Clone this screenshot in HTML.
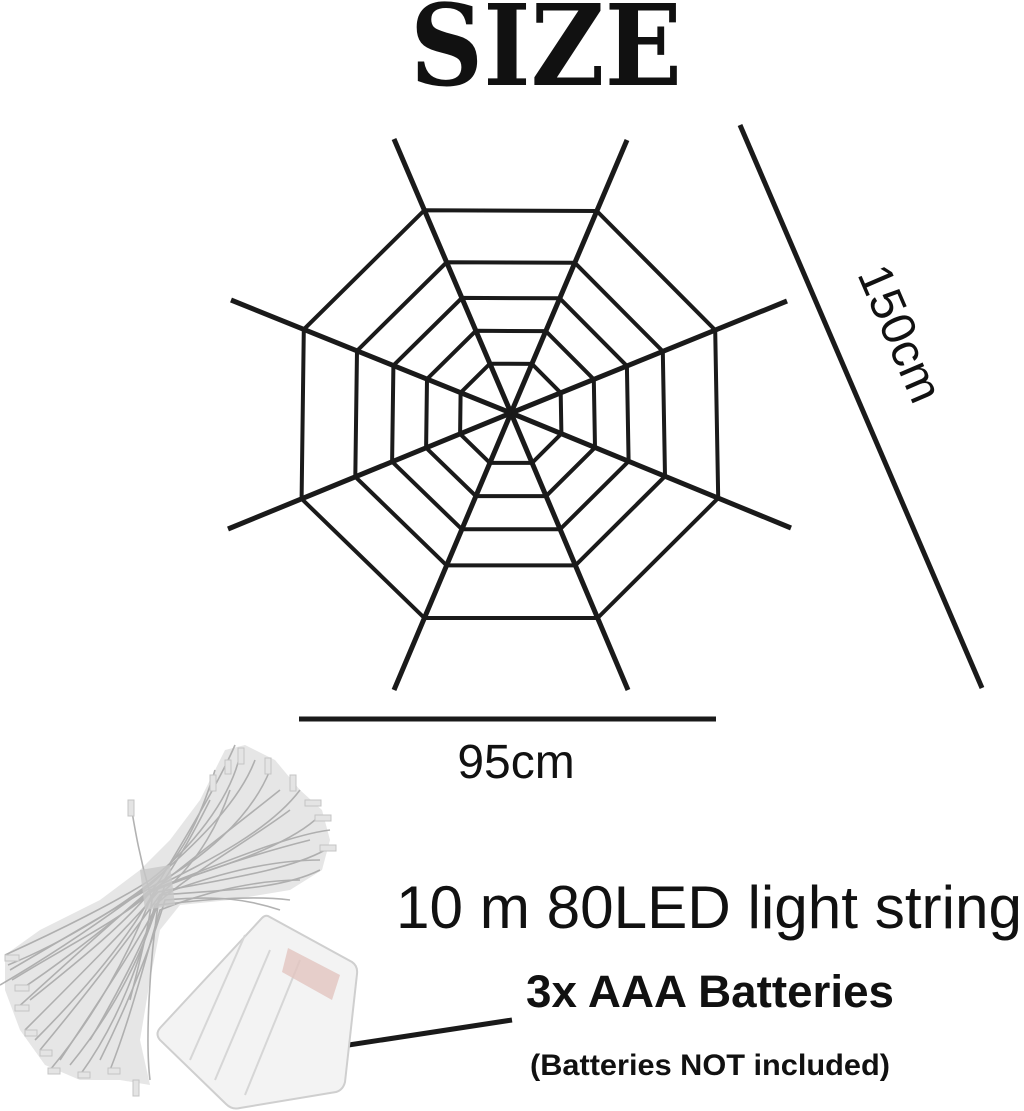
<!DOCTYPE html>
<html><head><meta charset="utf-8"><style>
html,body{margin:0;padding:0;background:#fff;}
body{width:1024px;height:1111px;position:relative;overflow:hidden;}
</style></head><body>
<svg width="1024" height="1111" viewBox="0 0 1024 1111" xmlns="http://www.w3.org/2000/svg" style="position:absolute;left:0;top:0">
<text x="410" y="85" font-family="DejaVu Serif, serif" font-weight="bold" font-size="112" fill="#111" textLength="272" lengthAdjust="spacingAndGlyphs">SIZE</text>
<g stroke="#1a1a1a" fill="none" stroke-linejoin="miter" stroke-linecap="butt">
<g stroke-width="5">
<line x1="511" y1="413" x2="394" y2="139"/>
<line x1="511" y1="413" x2="627" y2="140"/>
<line x1="511" y1="413" x2="787" y2="301"/>
<line x1="511" y1="413" x2="791" y2="528"/>
<line x1="511" y1="413" x2="628" y2="690"/>
<line x1="511" y1="413" x2="394" y2="690"/>
<line x1="511" y1="413" x2="228" y2="529"/>
<line x1="511" y1="413" x2="231" y2="300"/>
</g>
<g stroke-width="4">
<polygon points="424.4,210.2 596.8,211 715.2,330.1 718.2,498.1 597.6,618 424.4,618 301.6,498.8 303.8,329.4"/>
<polygon points="446.6,262.3 574.8,262.8 662.8,351.4 665,476.3 575.4,565.4 446.6,565.4 355.3,476.8 357,350.8"/>
<polygon points="461.9,297.9 559.7,298.3 626.9,366 628.6,461.3 560.1,529.3 461.9,529.3 392.1,461.7 393.4,365.5"/>
<polygon points="475.9,330.8 545.8,331.1 593.8,379.4 595,447.5 546.1,496.1 475.9,496.1 426.1,447.8 427,379.1"/>
<polygon points="489.9,363.7 531.9,363.9 560.7,392.8 561.4,433.7 532.1,462.9 489.9,462.9 460.1,433.9 460.6,392.7"/>
</g>
<line x1="740" y1="125" x2="982" y2="688" stroke-width="5"/>
<line x1="299" y1="719" x2="716" y2="719" stroke-width="5"/>
<line x1="303" y1="1052" x2="512" y2="1020" stroke-width="5"/>
</g>
<text x="897" y="335" transform="rotate(66.7 897 335)" text-anchor="middle" dominant-baseline="middle" font-family="Liberation Sans, sans-serif" font-size="48" fill="#111">150cm</text>
<text x="516" y="778" text-anchor="middle" font-family="Liberation Sans, sans-serif" font-size="48" fill="#111">95cm</text>
<text x="396" y="928" font-family="Liberation Sans, sans-serif" font-size="60" fill="#111" textLength="626" lengthAdjust="spacingAndGlyphs">10 m 80LED light string</text>
<text x="526" y="1007" font-family="Liberation Sans, sans-serif" font-weight="bold" font-size="45" fill="#111" textLength="368" lengthAdjust="spacingAndGlyphs">3x AAA Batteries</text>
<text x="530" y="1075" font-family="Liberation Sans, sans-serif" font-weight="bold" font-size="30" fill="#111" textLength="360" lengthAdjust="spacingAndGlyphs">(Batteries NOT included)</text>
<!-- light string bundle blob -->
<path d="M225,750 L245,745 L275,760 L300,790 L322,810 L330,840 L322,870 L290,890 L230,900 L180,905 L160,930 L150,980 L140,1040 L150,1085 L120,1080 L80,1080 L45,1065 L20,1030 L5,990 L5,955 L40,930 L100,900 L140,870 L170,840 L200,800 Z" fill="#d2d2d2" opacity="0.55"/>
<g fill="none" stroke="#aaaaaa" stroke-width="1.6" opacity="0.9">
<path d="M5,955 C60,930 120,900 150,880 C190,850 230,800 240,755"/>
<path d="M10,970 C70,935 120,905 155,885 C200,860 250,820 270,770"/>
<path d="M20,990 C80,950 125,910 160,885 C210,860 270,830 300,790"/>
<path d="M15,1010 C70,960 120,915 150,890 C210,870 280,850 315,820"/>
<path d="M25,1030 C80,975 130,925 158,892 C220,880 290,870 325,850"/>
<path d="M40,1050 C90,990 135,930 160,895 C220,890 280,890 320,870"/>
<path d="M60,1060 C100,1000 140,940 165,890 C200,860 220,820 230,790"/>
<path d="M50,1070 C100,1010 130,950 150,900 C180,860 200,820 210,800"/>
<path d="M80,1075 C120,1020 140,960 155,905 C195,870 250,840 290,810"/>
<path d="M110,1070 C130,1020 145,960 160,910 C210,890 260,880 300,880"/>
<path d="M130,1000 C140,960 148,930 152,900 C140,860 135,830 130,800"/>
<path d="M150,1080 C145,1040 150,960 158,905 C200,900 250,895 290,900"/>
<path d="M30,1000 C80,960 130,920 160,880 C190,830 220,780 235,745"/>
<path d="M0,985 C60,950 110,915 150,885 C180,860 200,820 215,770"/>
<path d="M90,1040 C120,990 150,930 165,885 C230,860 290,835 330,830"/>
<path d="M8,965 C70,940 130,900 160,875 C200,840 240,800 255,760"/>
<path d="M35,1040 C90,985 130,935 155,890 C220,865 270,850 310,840"/>
<path d="M70,1065 C115,1010 145,950 160,895 C200,880 260,860 320,860"/>
<path d="M100,1060 C125,1010 150,950 165,900 C220,895 250,900 280,910"/>
<path d="M12,980 C60,950 120,920 150,893 C190,860 230,830 280,790"/>
</g>
<g fill="#e4e4e4" stroke="#c4c4c4" stroke-width="1">
<rect x="238" y="748" width="6" height="16"/><rect x="265" y="758" width="6" height="16"/><rect x="290" y="775" width="6" height="16"/>
<rect x="305" y="800" width="16" height="6"/><rect x="315" y="815" width="16" height="6"/><rect x="320" y="845" width="16" height="6"/>
<rect x="210" y="775" width="6" height="16"/><rect x="128" y="800" width="6" height="16"/><rect x="225" y="760" width="6" height="14"/>
<rect x="5" y="955" width="14" height="6"/><rect x="15" y="985" width="14" height="6"/><rect x="15" y="1005" width="14" height="6"/>
<rect x="25" y="1030" width="12" height="6"/><rect x="40" y="1050" width="12" height="6"/><rect x="48" y="1068" width="12" height="6"/>
<rect x="78" y="1072" width="12" height="6"/><rect x="108" y="1068" width="12" height="6"/><rect x="133" y="1080" width="6" height="16"/>
</g>
<path d="M140,870 L170,865 L175,905 L145,910 Z" fill="#c8c8c8" opacity="0.8"/>
<!-- battery box -->
<path d="M268,916 L352,962 Q358,966 357,974 L345,1082 Q343,1090 336,1092 L240,1108 Q232,1110 226,1104 L160,1040 Q155,1034 160,1028 L262,918 Q265,915 268,916 Z" fill="#f3f3f3" stroke="#cfcfcf" stroke-width="2"/>
<g stroke="#d6d6d6" stroke-width="2" fill="none">
<line x1="245" y1="935" x2="190" y2="1060"/>
<line x1="270" y1="950" x2="215" y2="1080"/>
<line x1="300" y1="960" x2="245" y2="1095"/>
</g>
<polygon points="288,948 340,975 332,1000 282,972" fill="#e2c4bf" opacity="0.8"/>
</svg>
</body></html>
